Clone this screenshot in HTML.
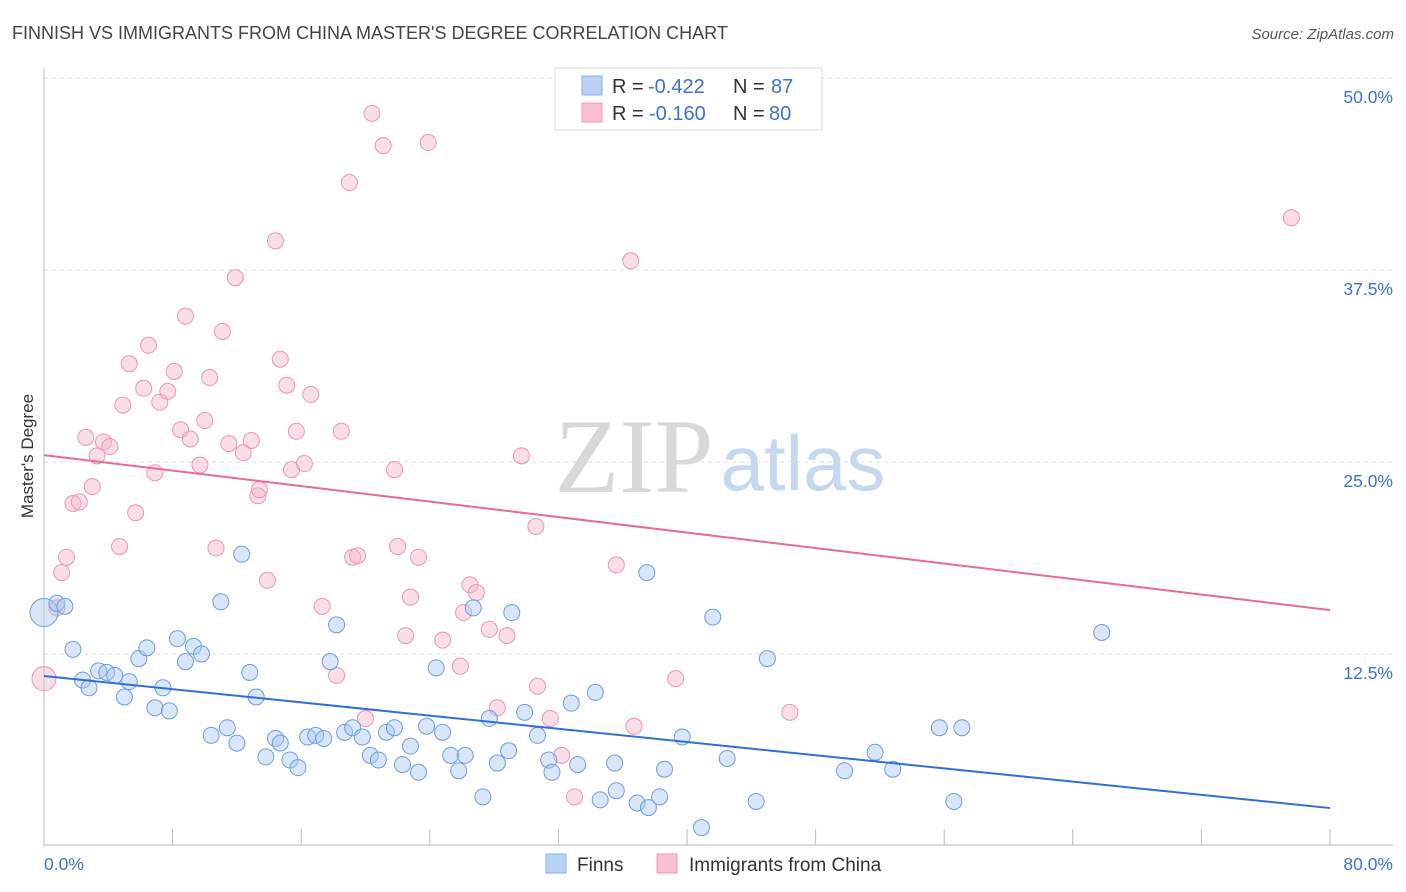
<!DOCTYPE html>
<html><head><meta charset="utf-8">
<style>
body{margin:0;background:#fff;font-family:"Liberation Sans",sans-serif;}
svg{display:block}
</style></head>
<body>
<svg id="chart" width="1406" height="892">
<text x="12" y="39" font-size="18" fill="#444">FINNISH VS IMMIGRANTS FROM CHINA MASTER'S DEGREE CORRELATION CHART</text>
<text x="1394" y="39" font-size="15" fill="#555" font-style="italic" text-anchor="end">Source: ZipAtlas.com</text>
<text transform="translate(33,456) rotate(-90)" font-size="17" fill="#333" text-anchor="middle">Master's Degree</text>
<g>
<text x="634" y="492" font-family="Liberation Serif,serif" font-size="106" fill="#d8d8d8" text-anchor="middle">ZIP</text>
<text x="803" y="490" font-size="78" fill="#c6d8f0" text-anchor="middle">atlas</text>
</g>
<g id="grid"></g>
<g id="axes"></g>
<g id="points"></g>
<g id="lines"></g>
<g>
<rect x="555" y="68" width="267" height="62" fill="#fff" stroke="#ddd"/>
<rect x="582" y="76" width="20" height="19" fill="#b8d3f5" stroke="#88b0e8"/>
<rect x="582" y="103" width="20" height="19" fill="#f8c0d2" stroke="#f09ab6"/>
<text x="612" y="93" font-size="20" fill="#333">R = <tspan x="648" fill="#3a74d0">-0.422</tspan><tspan x="733">N = </tspan><tspan x="771" fill="#3a74d0">87</tspan></text>
<text x="612" y="120" font-size="20" fill="#333">R = <tspan x="649" fill="#3a74d0">-0.160</tspan><tspan x="733">N = </tspan><tspan x="769" fill="#3a74d0">80</tspan></text>
</g>
<g>
<rect x="546" y="854" width="20" height="19" fill="#b8d3f5" stroke="#88b0e8"/>
<text x="577" y="871" font-size="19" fill="#333">Finns</text>
<rect x="657" y="854" width="20" height="19" fill="#f8c0d2" stroke="#f09ab6"/>
<text x="689" y="871" font-size="19" fill="#333">Immigrants from China</text>
</g>
</svg>
<script>
const yTicks=[12.5,25.0,37.5,50.0];
const xTickLabels=["0.0%","80.0%"];
const finnsX=[0,0.8,1.3,1.8,2.4,2.8,3.4,3.9,4.4,5.0,5.3,5.9,6.4,6.9,7.4,7.8,8.3,8.8,9.3,9.8,10.4,11.0,11.4,12.0,12.3,12.8,13.2,13.8,14.4,14.7,15.3,15.8,16.4,16.9,17.4,17.8,18.2,18.7,19.2,19.8,20.3,20.8,21.3,21.8,22.3,22.8,23.3,23.8,24.4,24.8,25.3,25.8,26.2,26.7,27.3,27.7,28.2,28.9,29.1,29.9,30.7,31.4,31.6,32.8,33.2,34.3,34.6,35.5,35.6,36.9,37.6,38.3,37.5,38.6,39.7,40.9,41.6,42.5,44.3,45.0,49.8,51.7,52.8,55.7,56.6,57.1,65.8];
const finnsY=[15.2,15.8,15.6,12.8,10.8,10.3,11.4,11.3,11.1,9.7,10.7,12.2,12.9,9.0,10.3,8.8,13.5,12.0,13.0,12.5,7.2,15.9,7.7,6.7,19.0,11.3,9.7,5.8,7.0,6.7,5.6,5.1,7.1,7.2,7.0,12.0,14.4,7.4,7.7,7.1,5.9,5.6,7.4,7.7,5.3,6.5,4.8,7.8,11.6,7.4,5.9,4.9,5.9,15.5,3.2,8.3,5.4,6.2,15.2,8.7,7.2,5.6,4.8,9.3,5.3,10.0,3.0,5.4,3.6,2.8,2.5,3.2,17.8,5.0,7.1,1.2,14.9,5.7,2.9,12.2,4.9,6.1,5.0,7.7,2.9,7.7,13.9];
const chinaX=[0,0.8,1.1,1.4,1.8,2.2,2.6,3.0,3.3,3.7,4.1,4.7,4.9,5.3,5.7,6.2,6.5,6.9,7.2,7.7,8.1,8.5,8.8,9.1,9.7,10.0,10.3,10.7,11.1,11.5,11.9,12.4,12.9,13.3,13.4,13.9,14.4,14.7,15.1,15.4,15.7,16.2,16.6,17.3,18.2,18.5,19.0,19.2,19.5,20.0,20.4,21.1,21.8,22.0,22.5,22.8,23.3,23.9,24.8,25.9,26.1,26.5,26.9,27.7,28.2,28.8,29.7,30.6,30.7,31.5,32.2,33.0,35.6,36.5,36.7,39.3,46.4,77.6,33.4];
const chinaY=[10.9,15.5,17.8,18.8,22.3,22.4,26.6,23.4,25.4,26.3,26.0,19.5,28.7,31.4,21.7,29.8,32.6,24.3,28.9,29.6,30.9,27.1,34.5,26.5,24.8,27.7,30.5,19.4,33.5,26.2,37.0,25.6,26.4,22.8,23.2,17.3,39.4,31.7,30.0,24.5,27.0,24.9,29.4,15.6,11.1,27.0,43.2,18.8,18.9,8.3,47.7,45.6,24.5,19.5,13.7,16.2,18.8,45.8,13.4,11.7,15.2,17.0,16.5,14.1,9.0,13.7,25.4,20.8,10.4,8.3,5.9,3.2,18.3,38.1,7.8,10.9,8.7,40.9,47.8];
const finnsTrend=[11.07,2.47];
const chinaTrend=[25.45,15.36];
const NS="http://www.w3.org/2000/svg";
const X0=44,X1=1330,Y0=846,Y50=78;
function sx(v){return X0+v*(X1-X0)/80;}
function sy(v){return Y0-v*(Y0-Y50)/50;}
function mk(tag,attrs,parent){const e=document.createElementNS(NS,tag);for(const k in attrs)e.setAttribute(k,attrs[k]);parent.appendChild(e);return e;}
const grid=document.getElementById('grid'),axes=document.getElementById('axes'),pts=document.getElementById('points'),lines=document.getElementById('lines');
yTicks.forEach(t=>{
  const l=mk('line',{x1:44,x2:1393,y1:sy(t),y2:sy(t),stroke:'#ddd','stroke-dasharray':'4,4'},grid);
  
  
  const tx=mk('text',{x:1393,y:sy(t)+25,'font-size':17.5,fill:'#3a74d0','text-anchor':'end'},grid);
  tx.textContent=t.toFixed(1)+'%';
  
  
});
let a=mk('line',{x1:44,x2:44,y1:68,y2:846,stroke:'#bbb'},axes);


a=mk('line',{x1:44,x2:1393,y1:845,y2:845,stroke:'#bbb'},axes);


for(let i=0;i<=10;i++){
  const t=mk('line',{x1:sx(i*8),x2:sx(i*8),y1:829,y2:845,stroke:'#bbb'},axes);
  
  
}
[[0,'start',44],[80,'end',1393]].forEach((d,i)=>{
  const tx=mk('text',{x:d[2],y:870,'font-size':17.5,fill:'#3a74d0','text-anchor':d[1]},axes);
  tx.textContent=xTickLabels[i];
  
  
});
function drawPts(xs,ys,fill,stroke,name){
  xs.forEach((x,i)=>{
    const r=(i===0)?(name==='finn-point'?14:12):8;
    const c=mk('circle',{cx:sx(x),cy:sy(ys[i]),r:r,fill:fill,'fill-opacity':0.45,stroke:stroke,'stroke-width':1},pts);
    
    
  });
}
drawPts(chinaX,chinaY,'#f5b5ca','#ec96b2','china-point');
drawPts(finnsX,finnsY,'#a9c8f0','#6f9ddc','finn-point');
let tl=mk('line',{x1:sx(0),y1:sy(chinaTrend[0]),x2:sx(80),y2:sy(chinaTrend[1]),stroke:'#e8699a','stroke-width':2},lines);


tl=mk('line',{x1:sx(0),y1:sy(finnsTrend[0]),x2:sx(80),y2:sy(finnsTrend[1]),stroke:'#2f6fd6','stroke-width':2},lines);


</script>
</body></html>
